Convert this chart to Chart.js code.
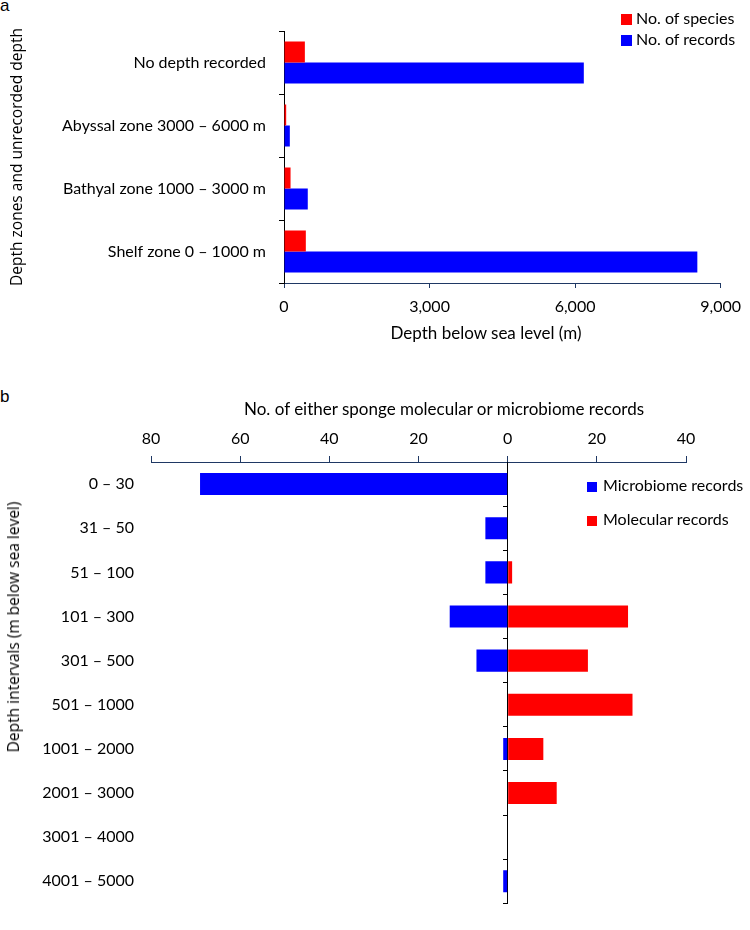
<!DOCTYPE html>
<html lang="en">
<head>
<meta charset="UTF-8" />
<title>Sponge records by depth</title>
<script src="https://cdn.jsdelivr.net/npm/chart.js"></script>
<style>
  body { margin: 0; background: #fff; }
  #wrap { position: relative; width: 750px; height: 930px; overflow: hidden; }
  canvas { position: absolute; left: 0; }
  .tag { position: absolute; left: 0; font: 17px "Liberation Sans", Arial, sans-serif; line-height: 17px; }
  .lg { position: absolute; font: 16px Lato, sans-serif; line-height: 18px; white-space: nowrap; }
  .lg i { display: inline-block; width: 11px; height: 11px; margin-right: 4px; vertical-align: -1px; }
  .ttl { position: absolute; white-space: nowrap; transform: translate(-50%, -50%); line-height: 20px; }
  .rot { transform: translate(-50%, -50%) rotate(-90deg); }
</style>
</head>
<body>
<div id="wrap">
  <div class="tag" style="top:-3px">a</div>
  <div class="tag" style="top:388px">b</div>

  <canvas id="chartA" width="750" height="360" style="top:0"></canvas>
  <canvas id="chartB" width="750" height="550" style="top:380px"></canvas>

  <!-- legends -->
  <div class="lg" style="left:621px; top:9px"><i style="background:#ff0000"></i>No. of species</div>
  <div class="lg" style="left:621px; top:30px"><i style="background:#0000ff"></i>No. of records</div>
  <div class="lg" style="left:587px; top:476px"><i style="background:#0000ff; width:10px; height:10px; margin-right:6px"></i>Microbiome records</div>
  <div class="lg" style="left:587px; top:510px"><i style="background:#ff0000; width:10px; height:10px; margin-right:6px"></i>Molecular records</div>

  <!-- axis titles -->
  <div class="ttl" style="left:486px; top:332px; font:17px Lato, sans-serif">Depth below sea level (m)</div>
  <div class="ttl" style="left:444px; top:408px; font:17px Lato, sans-serif">No. of either sponge molecular or microbiome records</div>
  <div class="ttl rot" style="left:13px; top:627px; font:15.5px 'Open Sans', sans-serif">Depth intervals (m below sea level)</div>
</div>

<script>
  // panel a: depth zones
  const zones = ['No depth recorded', 'Abyssal zone 3000 – 6000 m', 'Bathyal zone 1000 – 3000 m', 'Shelf zone 0 – 1000 m'];
  const species = [430, 45, 135, 450];
  const records = [6180, 120, 490, 8520];
  const ticksA = [0, 3000, 6000, 9000];

  // panel b: depth intervals
  const intervals = ['0 – 30', '31 – 50', '51 – 100', '101 – 300', '301 – 500', '501 – 1000', '1001 – 2000', '2001 – 3000', '3001 – 4000', '4001 – 5000'];
  const microbiome = [69, 5, 5, 13, 7, 0, 1, 0, 0, 1];
  const molecular = [0, 0, 1, 27, 18, 28, 8, 11, 0, 0];
  const ticksB = [-80, -60, -40, -20, 0, 20, 40];

  Chart.defaults.color = '#000';
  const labelFont = { family: 'Lato', size: 16 };
  const navy = '#1f3864';

  new Chart(document.getElementById('chartA'), {
    type: 'bar',
    data: {
      labels: zones,
      datasets: [
        { label: 'No. of species', data: species, backgroundColor: '#ff0000', categoryPercentage: 0.667, barPercentage: 1 },
        { label: 'No. of records', data: records, backgroundColor: '#0000ff', categoryPercentage: 0.667, barPercentage: 1 }
      ]
    },
    options: {
      indexAxis: 'y',
      responsive: false,
      animation: false,
      layout: { padding: { top: 31, right: 20, bottom: 14, left: 0 } },
      plugins: { legend: { display: false }, tooltip: { enabled: false } },
      scales: {
        x: {
          min: ticksA[0], max: ticksA[ticksA.length - 1],
          afterBuildTicks: s => { s.ticks = ticksA.map(v => ({ value: v })); },
          ticks: { callback: v => v.toLocaleString('en-US'), padding: 9, font: labelFont, maxRotation: 0 },
          grid: { drawOnChartArea: false, tickLength: 5, color: navy },
          border: { color: navy },
          afterFit: s => { s.height = 63; }
        },
        y: {
          ticks: { padding: 13, font: labelFont },
          grid: { offset: true, drawOnChartArea: false, tickLength: 5, color: '#000' },
          border: { color: '#000' },
          title: { display: true, text: 'Depth zones and unrecorded depth', font: { family: 'Open Sans', size: 15.5 }, padding: { top: 8, bottom: 0 } },
          afterFit: s => { s.width = 284; }
        }
      }
    }
  });

  new Chart(document.getElementById('chartB'), {
    type: 'bar',
    data: {
      labels: intervals,
      datasets: [
        { label: 'Microbiome records', data: microbiome.map(v => -v), backgroundColor: '#0000ff', categoryPercentage: 0.5, barPercentage: 1 },
        { label: 'Molecular records', data: molecular, backgroundColor: '#ff0000', categoryPercentage: 0.5, barPercentage: 1 }
      ]
    },
    options: {
      indexAxis: 'y',
      responsive: false,
      animation: false,
      layout: { padding: { top: 0, right: 64, bottom: 1, left: 0 } },
      plugins: { legend: { display: false }, tooltip: { enabled: false } },
      scales: {
        x: {
          position: 'top',
          stacked: true,
          min: ticksB[0], max: ticksB[ticksB.length - 1],
          afterBuildTicks: s => { s.ticks = ticksB.map(v => ({ value: v })); },
          ticks: { callback: v => Math.abs(v), padding: 8, font: labelFont, maxRotation: 0 },
          grid: { drawOnChartArea: false, tickLength: 6, color: navy },
          border: { color: navy },
          afterFit: s => { s.height = 82; }
        },
        y: {
          stacked: true,
          ticks: { padding: 17, font: labelFont },
          grid: { display: false, drawTicks: false },
          border: { display: false },
          afterFit: s => { s.width = 151; }
        },
        // vertical line at zero with the category tick marks
        zero: {
          type: 'category',
          axis: 'y',
          position: { x: 0 },
          offset: true,
          ticks: { display: false },
          grid: { offset: true, drawOnChartArea: false, tickLength: 4, color: '#000' },
          border: { color: '#000' }
        }
      }
    }
  });
</script>
</body>
</html>
